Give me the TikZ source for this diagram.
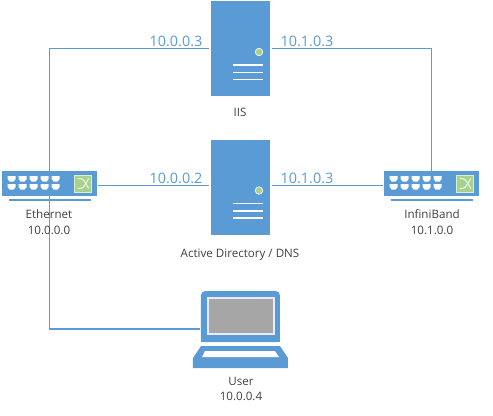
\documentclass[tikz,border=0pt]{standalone}
\usepackage{fontspec}
\setmainfont{Open Sans}
\usepackage{xcolor}
\definecolor{netblue}{HTML}{5B9BD5}
\definecolor{ledgreen}{HTML}{A9D18E}
\definecolor{labelgray}{HTML}{404040}
\begin{document}
\begin{tikzpicture}[font=\fontsize{6.6}{9}\selectfont,line cap=butt,
  link/.style={netblue,line width=0.6pt},
  serverbox/.style={fill=netblue,minimum width=1.18cm,minimum height=1.9cm,inner sep=0pt},
  switchbox/.style={fill=netblue,minimum width=1.9cm,minimum height=0.5cm,inner sep=0pt},
  lidbox/.style={fill=netblue,minimum width=1.58cm,minimum height=1.02cm,inner sep=0pt,
    rounded corners=2.5pt},
  screenbox/.style={fill=black!35,draw=blue!8,line width=0.6pt,minimum width=1.32cm,
    minimum height=0.72cm,inner sep=0pt},
  devlabel/.style={text=labelgray,align=center,inner sep=0pt},
  iplabel/.style={text=netblue,font=\fontsize{8.2}{9}\selectfont,inner sep=0pt}]
\useasboundingbox (0,0) rectangle (9.86,8.3);
% devices
\node[serverbox] (iis) at (4.81,7.33) {};
\node[serverbox] (ad) at (4.81,4.56) {};
\node[switchbox] (eth) at (0.99,4.63) {};
\node[switchbox] (ib) at (8.63,4.63) {};
\node[lidbox] (lid) at (4.81,1.97) {};
\fill[netblue] (lid.south west) rectangle ([yshift=0.2cm]lid.south east);
\node[screenbox] (screen) at (4.82,1.98) {};
% laptop base
\fill[netblue] (3.86,0.94) -- (5.76,0.94) -- (5.76,1.14) -- (5.6,1.38) -- (4.02,1.38) -- (3.86,1.14) -- cycle;
\fill[white] (4.04,1.16) -- (5.58,1.16) -- (5.5,1.28) -- (4.1,1.28) -- cycle;
% server details
\foreach \srv in {iis,ad} {
  \foreach \ybar in {-0.33,-0.48,-0.62}
    \draw[white,line width=1.1pt] ([shift={(-0.15,\ybar)}]\srv.center) -- ([shift={(0.45,\ybar)}]\srv.center);
  \fill[ledgreen,draw=white,line width=0.4pt] ([shift={(0.37,-0.07)}]\srv.center) circle (0.075);
}
% switch details
\foreach \sw in {eth,ib} {
  \begin{scope}[shift={(\sw.west)}]
  \foreach \xport in {0.2,0.42,0.64,0.86,1.08} {
    \fill[white] (\xport-0.08,0.15) -- (\xport+0.08,0.15) -- (\xport+0.08,0.09) -- (\xport+0.04,0.04) -- (\xport-0.04,0.04) -- (\xport-0.08,0.09) -- cycle;
    \fill[white] (\xport-0.08,-0.01) -- (\xport+0.08,-0.01) -- (\xport+0.08,-0.07) -- (\xport+0.04,-0.12) -- (\xport-0.04,-0.12) -- (\xport-0.08,-0.07) -- cycle;
  }
  \fill[ledgreen,draw=white!60!ledgreen,line width=0.4pt] (1.46,-0.17) rectangle (1.8,0.17);
  \draw[white!75!ledgreen,line width=0.6pt] (1.52,-0.1) .. controls (1.63,-0.1) .. (1.74,0.1);
  \draw[white!75!ledgreen,line width=0.6pt] (1.52,0.1) .. controls (1.63,0.1) .. (1.74,-0.1);
  \end{scope}
  \draw[netblue,line width=1.2pt] ([shift={(0.14,-0.08)}]\sw.south west) -- ([shift={(-0.12,-0.08)}]\sw.south east);
}
% links
\draw[link,shorten >=0.04cm] (eth.north) |- (iis.west);
\draw[link,shorten >=0.04cm] (ib.north) |- (iis.east);
\draw[link,shorten >=0.04cm,shorten <=0.02cm] ([yshift=-0.04cm]eth.east) -- ([yshift=-0.04cm]eth.east -| ad.west);
\draw[link,shorten >=0.02cm,shorten <=0.04cm] ([yshift=-0.04cm]ib.west -| ad.east) -- ([yshift=-0.04cm]ib.west);
\draw[link,shorten >=0.02cm] (eth.south) |- ([yshift=-0.25cm]lid.west);
% labels
\node[iplabel] (iisleft) at (3.52,7.47) {10.0.0.3};
\node[iplabel] (iisright) at (6.14,7.47) {10.1.0.3};
\node[iplabel] (adleft) at (3.52,4.73) {10.0.0.2};
\node[iplabel] (adright) at (6.14,4.73) {10.1.0.3};
\node[devlabel] (iistext) at (4.8,6.06) {IIS};
\node[devlabel] (adtext) at (4.8,3.2) {Active Directory / DNS};
\node[devlabel] (ethtext) at (0.98,3.86) {Ethernet\\10.0.0.0};
\node[devlabel] (ibtext) at (8.64,3.86) {InfiniBand\\10.1.0.0};
\node[devlabel] (usertext) at (4.82,0.52) {User\\10.0.0.4};
\end{tikzpicture}
\end{document}
